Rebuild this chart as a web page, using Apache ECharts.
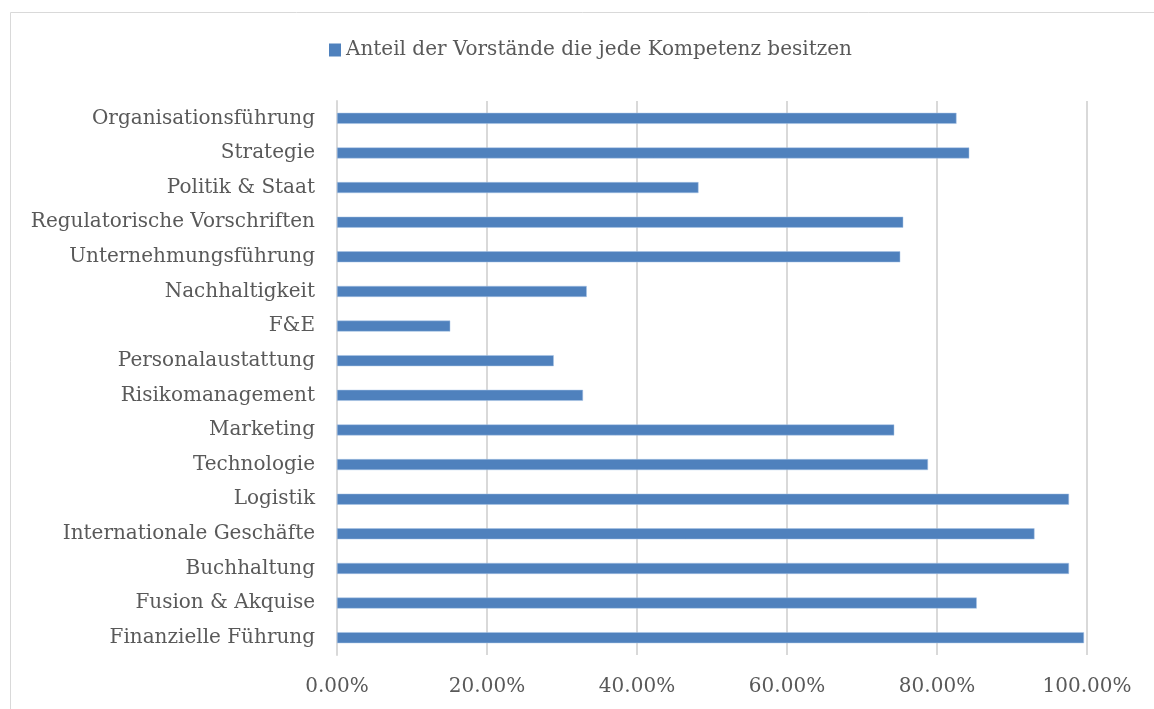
<!DOCTYPE html>
<html><head><meta charset="utf-8">
<script src="https://cdn.jsdelivr.net/npm/echarts@6/dist/echarts.min.js"></script>
<style>html,body{margin:0;padding:0;background:#fff}#c{width:1154px;height:709px}</style>
</head><body><div id="c"></div>
<script>
const categories = ["Finanzielle Führung","Fusion & Akquise","Buchhaltung","Internationale Geschäfte","Logistik","Technologie","Marketing","Risikomanagement","Personalaustattung","F&E","Nachhaltigkeit","Unternehmungsführung","Regulatorische Vorschriften","Politik & Staat","Strategie","Organisationsführung"];
const values = [0.996,0.853,0.976,0.930,0.976,0.788,0.743,0.328,0.289,0.151,0.333,0.751,0.755,0.482,0.843,0.826];
const seriesName = "Anteil der Vorstände die jede Kompetenz besitzen";
const FONT = "DejaVu Serif";
const chart = echarts.init(document.getElementById('c'));
chart.setOption({
  animation:false,
  textStyle:{fontFamily:FONT},
  graphic:[{type:'rect',shape:{x:10.5,y:12.5,width:1300,height:900},style:{fill:'none',stroke:'#d9d9d9',lineWidth:1},silent:true}],
  legend:{top:35,left:324,itemWidth:12,itemHeight:13,icon:'rect',
    itemStyle:{borderWidth:0,color:'#4f81bd'},
    textStyle:{fontFamily:FONT,fontSize:20,color:'#595959',padding:[0,0,0,0]},data:[seriesName]},
  grid:{left:337,right:67,top:101,height:554,containLabel:false},
  xAxis:{type:'value',min:0,max:1,interval:0.2,
    axisLabel:{formatter:v=>(v*100).toFixed(2)+'%',fontFamily:FONT,fontSize:20,color:'#595959',margin:22},
    splitLine:{lineStyle:{color:'#d9d9d9',width:2}},axisLine:{show:false},axisTick:{show:false}},
  yAxis:{type:'category',data:categories,
    axisLabel:{fontFamily:FONT,fontSize:20,color:'#595959',margin:22},
    axisLine:{lineStyle:{color:'#d9d9d9',width:2}},axisTick:{show:false}},
  series:[{name:seriesName,type:'bar',data:values,barWidth:11,
    itemStyle:{color:'#4f81bd',borderColor:'#a9c4e6',borderWidth:0.5}}]
});
</script></body></html>
